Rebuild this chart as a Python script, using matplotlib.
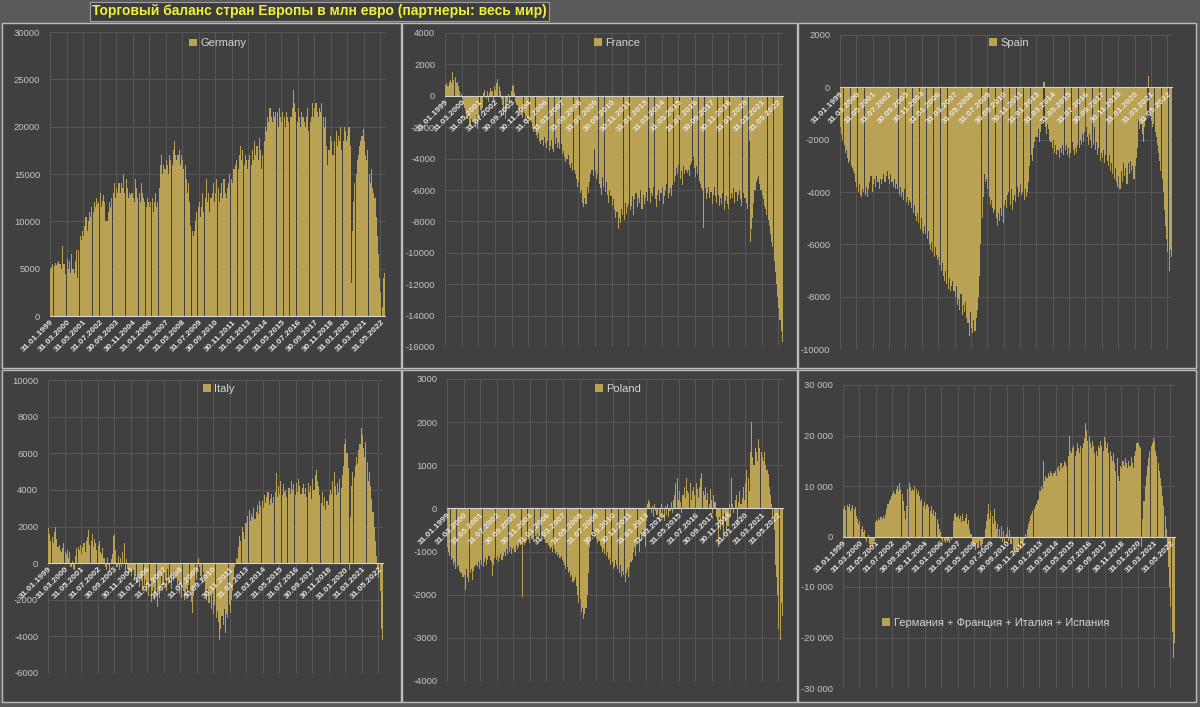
import numpy as np
import pandas as pd
import matplotlib
matplotlib.use("Agg")
import matplotlib.pyplot as plt
from matplotlib.patches import Rectangle
from matplotlib.ticker import FuncFormatter

# monthly trade balance, mln EUR, Jan 1999 .. Aug 2022
germany = [
    5000, 5200, 5500, 5300, 5600, 5400, 5600, 5800, 5500, 5000, 7400, 5500,
    5500, 4400, 6000, 5000, 5800, 4500, 6500, 5000, 4500, 5800, 7000, 4000,
    7000, 8500, 8000, 9000, 8500, 9500, 10500, 9000, 10000, 11000, 10500, 11500,
    11000, 12000, 11500, 12500, 11800, 12000, 13000, 11500, 12200, 12800, 12000, 10000,
    10000, 11000, 12000, 11500, 12500, 13000, 14000, 12500, 13500, 13000, 14000, 13000,
    14000, 13500, 15000, 13000, 14500, 13500, 12500, 13000, 12800, 13000, 12500, 12000,
    14500, 13500, 12500, 13000, 12000, 14000, 13000, 12500, 12000, 11500, 12500, 12000,
    11500, 12000, 12500, 11000, 12000, 13000, 11500, 12000, 13500, 16000, 17000, 15000,
    16000, 15500, 16500, 16000, 15000, 17000, 16500, 16000, 17500, 18500, 17000, 16500,
    17000, 17500, 16000, 17000, 16500, 15500, 16000, 14500, 13000, 14000, 12000, 9500,
    9000, 8500, 9000, 10000, 11000, 11500, 12000, 10500, 11500, 13000, 11000, 12500,
    14500, 12000, 13000, 11000, 12500, 13000, 14000, 12000, 13000, 14500, 13500, 12000,
    13000, 14000, 12500, 14500, 13000, 12500, 13500, 14000, 15000, 14500, 14000, 15500,
    15500, 16000, 16500, 15500, 17000, 18000, 16500, 17500, 16000, 17000, 16500, 15500,
    16500, 17000, 16000, 17500, 16500, 18500, 17000, 18000, 16500, 18800, 17500, 15500,
    17000, 18500, 20000, 19500, 21000, 20500, 22000, 21000, 20500, 21500, 21000, 21500,
    21500, 20000, 22000, 21000, 20500, 21500, 21000, 20000, 21500, 21000, 20500, 21000,
    21000, 22000, 23900, 22500, 21500, 20500, 22000, 21000, 20000, 21500, 21000, 20500,
    20000, 21000, 22000, 19500, 20500, 21000, 22500, 21000, 22000, 22500, 21500, 21000,
    22000, 21500, 22500, 21000, 20000, 21000, 18000, 16000, 17500, 19000, 18500, 17000,
    17000, 18500, 19500, 18000, 19000, 18500, 20000, 17500, 18500, 20000, 19500, 18500,
    19000, 20000, 18000, 3500, 9000, 12000, 14000, 15000, 16500, 17000, 18000, 18500,
    19000, 19800, 18500, 17000, 16500, 17500, 15000, 14000, 15500, 13500, 13000, 12500,
    10500, 8500, 6500, 4000, 2500, 1000, 4000, 4500,
]

france = [
    700, 800, 600, 900, 1000, 800, 1500, 1000, 1200, 800, 900, 600,
    300, 100, -200, -500, -800, -1000, -1500, -1200, -1800, -2000, -1500, -1700,
    -1500, -2000, -1200, -2100, -1600, -900, -1300, -800, 200, 400, -200, 300,
    -400, 200, 500, 300, -300, 600, 400, 800, 1100, 600, 300, -200,
    -600, -1200, -1500, -800, -400, 100, -500, 300, 600, 700, 200, -400,
    -600, -900, -1100, -800, -1200, -1400, -1100, -1600, -1300, -1500, -1800, -1400,
    -1700, -2000, -2300, -2100, -2500, -2700, -2400, -2900, -3100, -2800, -3200, -2600,
    -3000, -3300, -2900, -3500, -3200, -2800, -3400, -3600, -3100, -2700, -3300, -3000,
    -3400, -3100, -3700, -3500, -3900, -4200, -4000, -3800, -4400, -4600, -4300, -4800,
    -4700, -5000, -5300, -5800, -5500, -6200, -6000, -6800, -7100, -6500, -6900, -5800,
    -6200, -5500, -5000, -4700, -5100, -3400, -4800, -5300, -5000, -5600, -5900, -6300,
    -5200, -5800, -6100, -5500, -6300, -6800, -6000, -6400, -7000, -6600, -7300, -7800,
    -7400, -8500, -7800, -8100, -7200, -7600, -7900, -6800, -7500, -7100, -6900, -7300,
    -7000, -6400, -7600, -6600, -6200, -7100, -6500, -6800, -6000, -7200, -6300, -6900,
    -6500, -6100, -6700, -5900, -6800, -6200, -6400, -5800, -6600, -7100, -6300, -6000,
    -6700, -6200, -5800, -6900, -6400, -6000, -5600, -6500, -6200, -5900, -6400, -5700,
    -5500, -5100, -4600, -5000, -4400, -5300, -4800, -5700, -4500, -5000, -4700, -4900,
    -4700, -5100, -4400, -4200, -3900, -4600, -5200, -4500, -5000, -5400, -5600, -5900,
    -6000, -8400, -5900, -6600, -6200, -5800, -6500, -6100, -6900, -6300, -5800, -6400,
    -6800, -6300, -7000, -6500, -6900, -6200, -7300, -6700, -6400, -6900, -7200, -6600,
    -6200, -6500, -5900, -6800, -6100, -6700, -6300, -6000, -6600, -7000, -6200, -6500,
    -6500, -6800, -7200, -2900, -9300, -8500, -7800, -6800, -6000, -5500, -5300, -5100,
    -5600, -6000, -6300, -6600, -7000, -7200, -7600, -7900, -8300, -8800, -9300, -9600,
    -10500, -11200, -12000, -12800, -13500, -14300, -15000, -15700,
]

spain = [
    -1500, -1800, -2000, -2200, -2500, -2400, -2700, -2900, -2800, -3000, -3100, -3200,
    -3300, -3600, -3800, -4000, -3700, -4100, -4200, -3900, -4000, -4100, -3800, -4200,
    -3900, -3600, -3400, -4000, -3700, -3500, -3800, -3400, -3600, -3900, -3500, -3700,
    -3500, -3300, -3600, -3400, -3200, -3500, -3700, -3300, -3600, -3800, -3500, -3900,
    -3700, -3900, -4100, -3800, -4200, -4000, -4300, -3900, -4400, -4200, -4500, -4300,
    -4400, -4600, -4800, -4500, -4900, -5100, -4800, -5200, -5400, -5000, -5500, -5600,
    -5300, -5600, -5800, -5500, -6000, -6200, -5900, -6300, -6500, -6100, -6400, -6600,
    -6500, -6800, -7000, -6700, -7200, -7400, -7000, -7500, -7700, -7300, -7800, -7600,
    -7400, -7800, -8000, -7600, -8300, -8100, -8500, -7900, -8700, -8300, -8600, -8200,
    -8800, -9000, -9500, -8600, -9200, -9400, -8900, -9300, -8800, -8500, -8000, -7200,
    -6000, -5000, -4200, -3300, -3600, -3500, -3900, -4200, -4500, -4300, -4600, -4800,
    -4700, -5000, -5300, -4800, -5100, -4600, -4900, -5200, -4500, -4300, -4600, -4100,
    -4000, -4500, -3900, -4700, -4300, -4100, -4400, -3800, -4200, -4000, -3700, -4100,
    -4000, -4300, -3900, -4200, -4000, -3600, -3000, -2600, -2800, -2300, -2100, -1900,
    -1900, -1600, -2100, -1700, -1400, -1300, 200, -1500, -1800, -1400, -1600, -2000,
    -2100, -2300, -2000, -2500, -2200, -2600, -2400, -2700, -2300, -2500, -2200, -2600,
    -2400, -2200, -2600, -2300, -2700, -2500, -2100, -2400, -2600, -2300, -2500, -2200,
    -2300, -2000, -2200, -1800, -2100, -1700, -1500, -1900, -2200, -1800, -2000, -2300,
    -2200, -1500, -2400, -2100, -2600, -2300, -2800, -2500, -2700, -2400, -2900, -2600,
    -2800, -3000, -2600, -3200, -2900, -3300, -3500, -3100, -3600, -3800, -3400, -3900,
    -3200, -3600, -2900, -3400, -3100, -3700, -2900, -3300, -2800, -3200, -3000, -3500,
    -3000, -2700, -2300, -1200, -1600, -1400, -1800, -2100, -1500, -1300, -1100, 450,
    -900, -1100, -1300, -1500, -1400, -1700, -1900, -2200, -2500, -2800, -3200, -3500,
    -4000, -4700, -5300, -5800, -6300, -7000, -6200, -6500,
]

italy = [
    1900, 1600, 1200, 1400, 1100, 1700, 2000, 1300, 900, 1000, 700, 600,
    800, 1100, 600, 500, 700, 300, 600, -200, 100, -300, -400, 400,
    800, 900, 700, 1000, 500, 900, 1100, 600, 1200, 1400, 1800, 1000,
    1200, 1600, 900, 1300, 1100, 700, 1000, 1200, 600, 500, 800, 300,
    -200, -400, 300, -100, -500, 200, 500, 1500, 1600, 700, -200, 400,
    -400, 300, -200, 600, 1100, -500, 200, -300, -600, -400, -700, -300,
    -400, -900, -700, -1100, -600, -1300, -800, -1000, -1500, -1200, -900, -1600,
    -1200, -1800, -1000, -2100, -1500, -1300, -2000, -1700, -2400, -1600, -1900, -1400,
    -700, -1200, -500, -900, -1500, -300, -1100, -800, -1400, -600, -1000, -400,
    -800, -1300, -1000, -1700, -1200, -1900, -1500, -2000, -1800, -1400, -1600, -1200,
    -1500, -2100, -2700, -1800, -1300, -900, -400, 300, -200, -700, -1000, -500,
    -1000, -1500, -2000, -1400, -2200, -1800, -2500, -1700, -2800, -2300, -3000, -2600,
    -3200, -4200, -3600, -2900, -3400, -2500, -3800, -2800, -3000, -2300, -2700, -2000,
    -1500, -800, -200, 300, 200, 900, 1500, 1200, 2000, 1700, 1300, 2200,
    2200, 2600, 2900, 2300, 2700, 2500, 3000, 2400, 2800, 3200, 2700, 3400,
    3100, 3400, 3000, 3700, 3300, 3600, 3900, 3200, 3500, 3800, 3300, 3600,
    3900, 4900, 3600, 4200, 3800, 4500, 3700, 4300, 3900, 4000, 3600, 4100,
    4100, 3800, 4500, 4000, 4300, 3700, 4400, 3900, 4600, 4200, 3800, 4100,
    4300, 3800, 4100, 3600, 4400, 3900, 4200, 3500, 4600, 4000, 4800, 5100,
    4500, 4200, 3700, 3300, 3900, 3100, 3600, 2900, 3400, 3200, 3700, 4000,
    3800, 4500, 5000, 4200, 3700, 4400, 3900, 4600, 4100, 4800, 5300, 6500,
    6800, 6000, 5200, -400, 2500, 4200, 5000, 4700, 5300, 5800, 5400, 6200,
    6500, 7400, 7000, 6300, 5800, 6600, 5500, 4500, 5000, 4200, 3500, 2800,
    2000, 1200, 400, -300, -800, -1500, -3600, -4200,
]

poland = [
    -900, -1000, -1100, -1200, -1150, -1300, -1250, -1400, -1350, -1300, -1450, -1500,
    -1500, -1600, -1550, -1880, -1400, -1600, -1700, -1500, -1400, -1650, -1450, -1350,
    -1300, -1350, -1250, -1400, -1200, -1300, -1350, -1250, -1150, -1300, -1200, -1100,
    -1200, -1250, -1570, -1300, -1150, -1200, -1100, -1250, -1150, -1050, -1200, -1100,
    -1000, -1100, -950, -1050, -1000, -900, -1050, -950, -900, -1000, -850, -950,
    -900, -800, -850, -2050, -750, -850, -800, -750, -700, -800, -650, -700,
    -700, -750, -650, -700, -600, -700, -650, -750, -600, -650, -700, -800,
    -800, -850, -900, -950, -900, -1000, -950, -1050, -1000, -1100, -1050, -1150,
    -1100, -1200, -1250, -1300, -1400, -1350, -1500, -1450, -1600, -1550, -1700, -1650,
    -1600, -1800, -2000, -2200, -2100, -2400, -2300, -2570, -2450, -2300, -2000, -1500,
    -900, -700, -600, -500, -650, -550, -700, -800, -750, -850, -900, -1000,
    -950, -1050, -1100, -1000, -1200, -1150, -1300, -1250, -1400, -1350, -1200, -1300,
    -1400, -1500, -1300, -1600, -1450, -1550, -1700, -1500, -1400, -1600, -1350, -1250,
    -1200, -1000, -900, -1100, -800, -700, -1000, -600, -750, -500, -650, -900,
    -300, 100, 200, 150, -100, 50, -200, 100, -50, -150, 0, -250,
    -200, 100, -100, -300, 50, -150, 100, -200, -50, 150, -100, 200,
    300, 600, 700, 200, 400, 150, -100, 300, 500, 250, 700, 400,
    350, 600, 200, 400, 500, 300, 600, 450, 250, 500, 700, 830,
    400, 300, 500, 200, 350, 100, 450, 200, -100, 300, 150, -200,
    -300, -900, -200, -500, -400, -700, -100, -300, -600, -400, 100, -200,
    700, 100, -100, 200, 300, -400, 150, 400, 100, 250, 500, 200,
    600, 900, 700, 400, 1300, 2000, 1200, 1000, 1400, 1300, 1100, 1600,
    1400, 1300, 1200, 1100, 1300, 1000, 900, 800, 500, 300, 100, -200,
    -500, -1300, -1600, -2000, -2800, -3050, -2200, -2500,
]

big_four = [
    5500, 6000, 5300, 6200, 5800, 6500, 5000, 5600, 6300, 5400, 5900, 4000,
    3500, 2500, 3000, 1500, 2000, 800, 1200, -500, -1000, 300, -1500, -2000,
    -1500, -2000, -800, 2800, 3300, 3000, 3600, 3200, 3800, 3500, 4000, 3700,
    4500, 5500, 6500, 7000, 7500, 8000, 8500, 9000, 8500, 9500, 10000, 9000,
    10500, 9500, 8500, 7000, 5000, 3500, 6000, 9500, 10500, 9800, 9000, 9500,
    9000, 10000, 9500, 8500, 9000, 8000, 7000, 7500, 6000, 6800, 5500, 6200,
    6500, 5800, 5000, 6000, 4500, 5200, 4000, 4800, 3500, 2500, 1500, 800,
    -500, -1000, -800, -1300, -700, -1100, -900, -1200, -600, -300, 3000, 4500,
    4600, 3800, 4200, 3500, 4000, 2800, 4400, 3000, 3600, 4500, 2500, 3200,
    1500, 500, -1000, -2000, -1500, -2600, -1200, -2200, -800, -1800, -2500, -1500,
    -500, 1500, 3000, 4500, 6500, 3500, 5000, 4000, 2500, 5500, 3000, 1500,
    2500, 1500, -500, 2000, -1000, 1000, -1300, 500, 1800, -800, 1200, -1500,
    -1500, -2500, -3300, -2000, -2800, -1800, -3000, -2200, -1200, -2000, -1000, -500,
    500, 1500, 2500, 3000, 4000, 4500, 5000, 5500, 6000, 6500, 7000, 7500,
    9000, 10000, 9500, 15000, 11000, 12000, 11500, 12500, 12000, 13000, 12500, 12000,
    12500, 13000, 12000, 13500, 14000, 13000, 14500, 13500, 14000, 15000, 14500, 14000,
    16000, 20000, 17000, 16500, 17500, 18000, 16000, 17000, 18500, 17500, 16500, 18000,
    17500, 18500, 19500, 22400, 21000, 19000, 20000, 18500, 17500, 19000, 18000, 16500,
    17000, 16000, 18000, 17500, 19000, 18000, 17000, 19800, 19000, 17500, 18500, 16500,
    17000, 16000, 15000, 16500, 14500, 13000, 15500, 12000, 11000, 14000, 13500, 15000,
    14000, 15500, 14500, 13500, 15000, 14000, 15800, 14500, 13500, 16000, 17000, 18500,
    18500, 18000, 17500, -2000, 3500, 7000, 10000, 12000, 14000, 15500, 17000, 18000,
    18500, 19500, 19000, 17000, 16000, 14500, 13000, 11500, 10000, 8000, 6000, 4000,
    1500, -2000, -6000, -10000, -14000, -19000, -24000, -21000,
]

title = "Торговый баланс стран Европы в млн евро (партнеры: весь мир)"
sum_label = "Германия + Франция + Италия + Испания"

months = pd.period_range("1999-01", periods=len(germany), freq="M")
date_labels = list(months.to_timestamp(how="end").strftime("%d.%m.%Y"))
tick_step = 14

W, H = 1200, 707
GOLD = "#b9a254"
PANEL = "#404040"
FONT = ["Liberation Sans", "DejaVu Sans"]
plt.rcParams["font.family"] = FONT
plt.rcParams["axes.unicode_minus"] = False

fig = plt.figure(figsize=(W / 100, H / 100), dpi=100, facecolor="#5a5a5a")

# panel frames
for x0, y0, x1, y1 in [(2, 23, 401, 368), (402, 23, 797, 368), (798, 23, 1196, 368),
                       (2, 370, 401, 702), (402, 370, 797, 702), (798, 370, 1196, 702)]:
    fig.add_artist(Rectangle((x0 / W, 1 - y1 / H), (x1 - x0) / W, (y1 - y0) / H,
                             transform=fig.transFigure, facecolor=PANEL,
                             edgecolor="#bdbdbd", lw=1, zorder=0))

fig.text(92 / W, 1 - 11 / H, title, color="#f0f03c", fontsize=10, fontweight="bold",
         va="center", ha="left",
         bbox=dict(boxstyle="square,pad=0.18", fc="#3c3c3c", ec="#a0a0a0", lw=0.8))


def space_fmt(v, pos):
    return f"{int(v):,}".replace(",", " ")


panels = [
    ("Germany", germany, (50, 32, 385, 316), (0, 30000, 5000), (0.5, 0.96), False),
    ("France", france, (445, 33, 783, 347), (-16000, 4000, 2000), (0.51, 0.968), False),
    ("Spain", spain, (840, 35, 1172, 349), (-10000, 2000, 2000), (0.51, 0.975), False),
    ("Italy", italy, (48, 380, 383, 673), (-6000, 10000, 2000), (0.51, 0.969), False),
    ("Poland", poland, (447, 379, 783, 681), (-4000, 3000, 1000), (0.51, 0.967), False),
    (sum_label, big_four, (843, 385, 1175, 688), (-30000, 30000, 10000), (0.46, 0.215), True),
]

x = np.arange(len(germany))
for name, vals, (l, t, r, b), (lo, hi, step), leg_pos, spaced in panels:
    ax = fig.add_axes([l / W, 1 - b / H, (r - l) / W, (b - t) / H])
    ax.patch.set_alpha(0)
    for s in ["top", "right", "left"]:
        ax.spines[s].set_visible(False)
    ax.spines["bottom"].set_position(("data", 0))
    ax.spines["bottom"].set_color("#d4d4d4")
    ax.spines["bottom"].set_linewidth(0.8)
    ax.spines["bottom"].set_zorder(2)

    yt = np.arange(lo, hi + step, step)
    for v in yt:
        ax.axhline(v, color="#575757", lw=0.7, zorder=0)
    for i in x[::tick_step]:
        ax.axvline(i - 0.5, color="#575757", lw=0.7, zorder=0)
    ax.bar(x, vals, width=0.9, color=GOLD, linewidth=0, label=name, zorder=1)
    ax.set_xlim(-0.5, len(x) - 0.5)
    ax.set_ylim(lo, hi)
    ax.set_yticks(yt)
    if spaced:
        ax.yaxis.set_major_formatter(FuncFormatter(space_fmt))
    ax.set_xticks(x[::tick_step])
    ax.set_xticklabels(date_labels[::tick_step])
    ax.tick_params(axis="x", length=0, pad=2)
    ax.tick_params(axis="y", length=0, pad=7, labelsize=6.8, labelcolor="#c4c4c4")
    plt.setp(ax.get_xticklabels(), rotation=45, ha="right", va="top",
             rotation_mode="anchor", fontsize=6, fontweight="bold", color="#e6e6e6")
    ax.legend(loc="center", bbox_to_anchor=leg_pos, frameon=False, fontsize=8,
              labelcolor="#d4d4d4", handlelength=0.7, handleheight=0.7,
              handletextpad=0.3, borderpad=0)

fig.savefig("out.png", dpi=100, facecolor=fig.get_facecolor())
